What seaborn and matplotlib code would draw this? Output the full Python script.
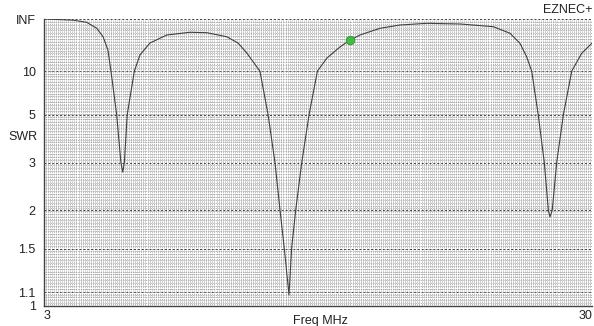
import numpy as np
import pandas as pd
import matplotlib
matplotlib.use('Agg')
import matplotlib.pyplot as plt
import seaborn as sns

# SWR sweep (freq in MHz)
freq = [3.00, 4.43, 5.10, 5.60, 5.91, 6.15, 6.30, 6.58, 6.79, 6.88, 6.96, 7.10, 7.45,
        7.73, 8.22, 9.05, 10.19, 11.02, 12.00, 12.56, 12.99, 13.64, 14.04, 14.38,
        14.63, 14.84, 15.07, 15.20, 15.40, 15.70, 16.06, 16.47, 16.94, 17.58, 18.08,
        18.57, 19.55, 20.54, 21.86, 23.50, 25.14, 25.96, 26.45, 26.78, 27.03, 27.35,
        27.65, 27.85, 27.93, 28.04, 28.26, 28.59, 29.00, 29.49, 29.99]
swr = [np.inf, 500, 173, 60.7, 31.4, 17.5, 10, 5, 3, 2.75, 3, 5, 10,
       15.0, 22.9, 34.9, 42.2, 40.9, 31.4, 22.9, 15.9, 10, 5, 3,
       2, 1.5, 1.08, 1.5, 2, 3, 5, 10, 13.7, 19.5, 26.3,
       34.9, 60.7, 94.7, 132, 114, 73.6, 39.2, 22.6, 14.2, 10, 5,
       3, 2, 1.9, 2, 3, 5, 10, 15.7, 22.6]

cursor_freq = [18.08]
cursor_swr = [26.3]

swr_ticks = [1, 1.1, 1.5, 2, 3, 5, 10, np.inf]
swr_tick_labels = ['1', '1.1', '1.5', '2', '3', '5', '10', 'INF']
freq_ticks = [3, 30]
freq_tick_labels = ['3', '30']


def refl(s):
    # EZNEC plots SWR on a reflection-coefficient scale
    s = np.asarray(s, dtype=float)
    with np.errstate(invalid='ignore'):
        g = (s - 1) / (s + 1)
    return np.where(np.isinf(s), 1.0, g)


df = pd.DataFrame({'freq': freq, 'swr': swr})
df['gamma'] = refl(df['swr'])
cur = pd.DataFrame({'freq': cursor_freq, 'gamma': refl(cursor_swr)})

sns.set_style('white')
plt.rcParams['font.family'] = ['Liberation Sans', 'DejaVu Sans']

fig = plt.figure(figsize=(5.94, 3.26), dpi=100)
ax = fig.add_axes([44 / 594, 20 / 326, 548 / 594, 287 / 326])

sns.lineplot(data=df, x='freq', y='gamma', estimator=None, color='#404040', lw=0.8, ax=ax)
sns.scatterplot(data=cur, x='freq', y='gamma', color='#44bb44', edgecolor='#2f8f2f',
                s=38, linewidth=0.6, zorder=5, ax=ax)

ax.set_xlim(3, 30)
ax.set_ylim(0, 1)

ax.set_yticks(refl(swr_ticks))
ax.set_yticklabels(swr_tick_labels)
ax.set_xticks(freq_ticks)
ax.set_xticklabels(freq_tick_labels)
ax.set_xticks(np.arange(3, 30.001, 0.1), minor=True)
ax.set_yticks(np.arange(0, 1.0001, 0.01), minor=True)

ax.grid(which='minor', color='#9c9c9c', linestyle=(0, (1, 1)), lw=0.6)
ax.grid(which='major', axis='y', color='#404040', linestyle=(0, (2, 2)), lw=0.7)
ax.set_axisbelow(True)

ax.tick_params(axis='both', which='both', length=0, labelsize=9, colors='#222222')
ax.tick_params(axis='y', pad=6)
ax.tick_params(axis='x', pad=3)
xl = ax.get_xticklabels()
xl[0].set_ha('left')
xl[1].set_ha('right')

for side in ['top', 'right']:
    ax.spines[side].set_visible(False)
for side in ['left', 'bottom']:
    ax.spines[side].set_color('#444444')
    ax.spines[side].set_linewidth(1.0)

ax.set_xlabel('')
ax.set_ylabel('')
ax.text(16.6, -0.03, 'Freq MHz', transform=ax.get_xaxis_transform(),
        ha='center', va='top', fontsize=9, color='#222222')
fig.text(8 / 594, 1 - 137 / 326, 'SWR', ha='left', va='center', fontsize=9, color='#222222')
fig.text(592 / 594, 1 - 10 / 326, 'EZNEC+', ha='right', va='center', fontsize=9, color='#222222')

fig.savefig('out.png', dpi=100)
